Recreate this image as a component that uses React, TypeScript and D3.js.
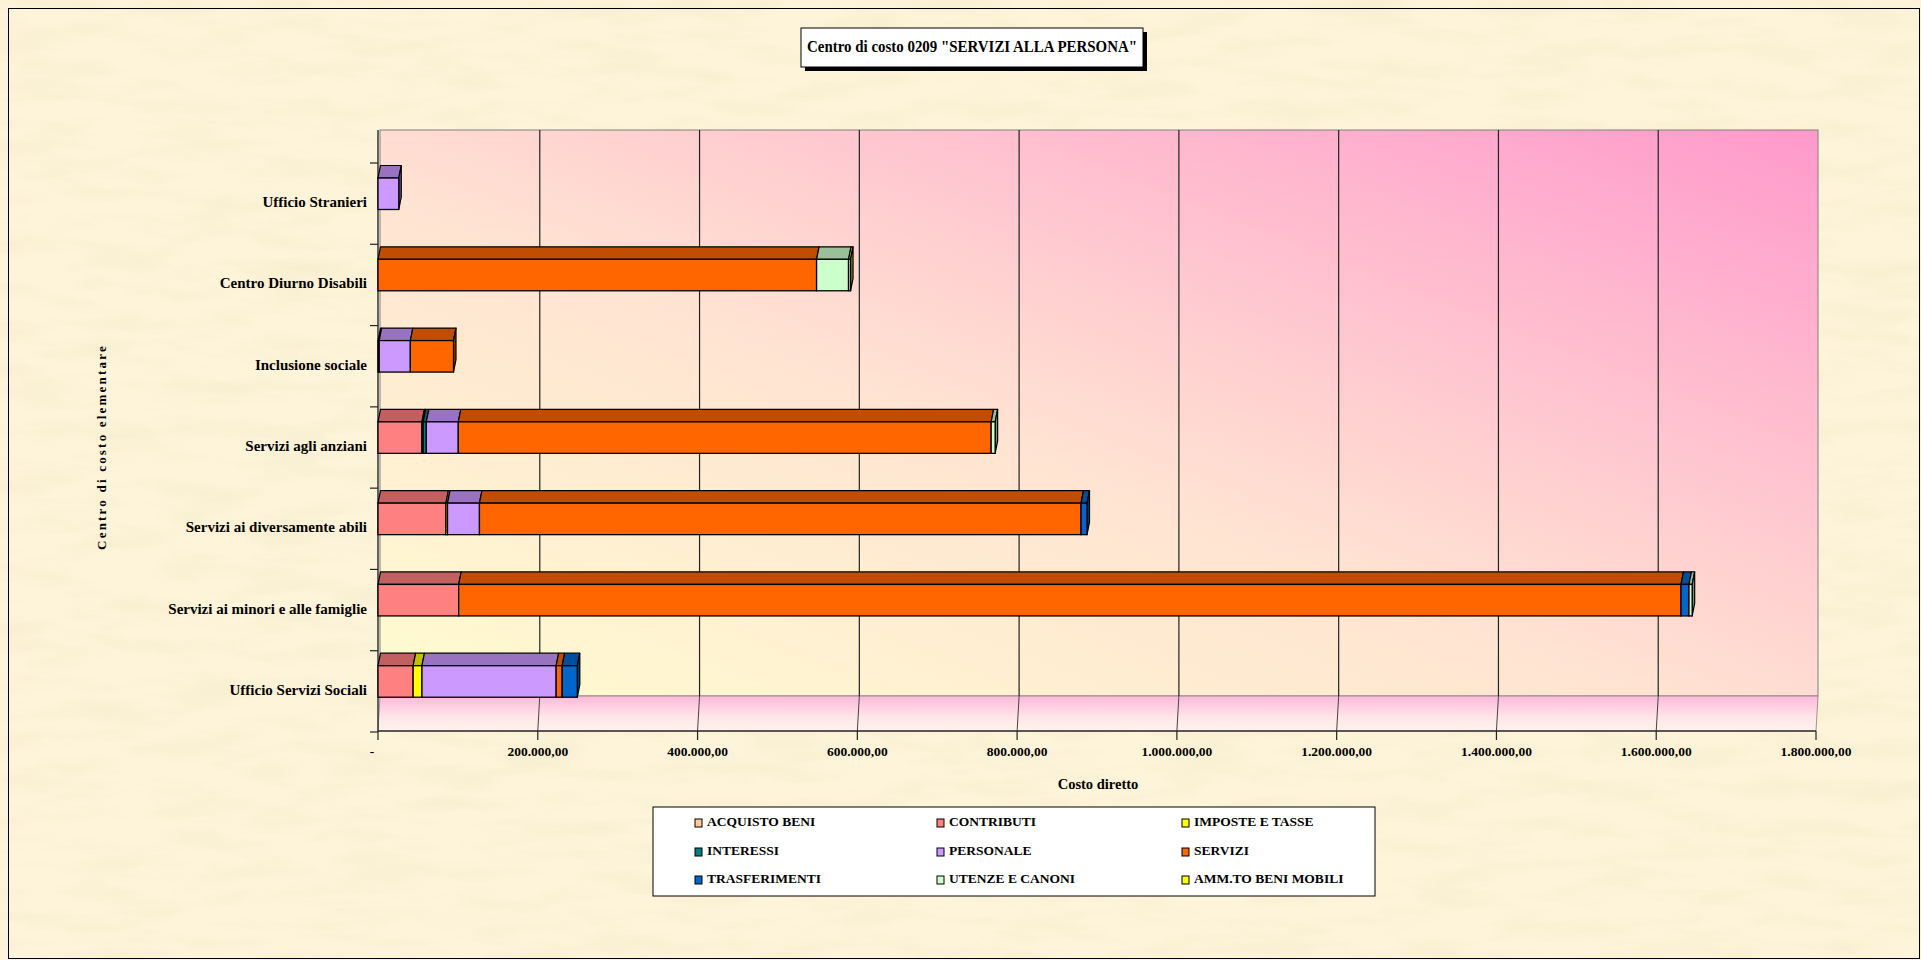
import React from "react";
import * as d3 from "d3";

const categories = [
  "Ufficio Stranieri",
  "Centro Diurno Disabili",
  "Inclusione sociale",
  "Servizi agli anziani",
  "Servizi ai diversamente abili",
  "Servizi ai minori e alle famiglie",
  "Ufficio Servizi Sociali",
];
const seriesNames = [
  "ACQUISTO BENI",
  "CONTRIBUTI",
  "IMPOSTE E TASSE",
  "INTERESSI",
  "PERSONALE",
  "SERVIZI",
  "TRASFERIMENTI",
  "UTENZE E CANONI",
  "AMM.TO BENI MOBILI",
];
const seriesColors = ["#FFCC99", "#FF8080", "#FFFF00", "#008080", "#CC99FF", "#FF6600", "#0066CC", "#CCFFCC", "#FFFF00"];

const acquistoBeni = [0, 0, 0, 0, 0, 0, 0];
const contributi = [0, 0, 0, 55000, 85000, 101000, 44000];
const imposteETasse = [0, 0, 1500, 1500, 2000, 0, 11000];
const interessi = [0, 0, 0, 4000, 0, 0, 0];
const personale = [26000, 0, 39000, 40000, 40000, 0, 168000];
const servizi = [0, 549000, 54000, 667000, 753000, 1530000, 7500];
const trasferimenti = [0, 0, 0, 0, 7500, 10000, 19000];
const utenzeECanoni = [0, 40000, 0, 5000, 0, 4000, 0];
const ammtoBeniMobili = [0, 2500, 0, 0, 0, 0, 0];

const xTicks = [0, 200000, 400000, 600000, 800000, 1000000, 1200000, 1400000, 1600000, 1800000];

const titleText = 'Centro di costo 0209 "SERVIZI ALLA PERSONA"';
const xTitle = "Costo diretto";
const yTitle = "Centro di costo elementare";

const seriesValues = [acquistoBeni, contributi, imposteETasse, interessi, personale, servizi, trasferimenti, utenzeECanoni, ammtoBeniMobili];

const rows = categories.map((c, i) => {
  const r: any = { cat: c };
  seriesNames.forEach((s, j) => (r[s] = seriesValues[j][i]));
  return r;
});

const itLocale = d3.formatLocale({ decimal: ",", thousands: ".", grouping: [3], currency: ["€", ""] });
const fmt = itLocale.format(",.2f");

const SERIF = "'Liberation Serif', 'Times New Roman', serif";

export default function App() {
  const W = 1921, H = 960;
  const x = d3.scaleLinear().domain([0, 1800000]).range([378, 1816]);
  const y = d3.scaleBand<string>().domain(categories).range([163, 732]);
  const stack = d3.stack<any>().keys(seriesNames)(rows);

  const wallTop = 130, wallBottom = 696, axisY = 731;
  const fdx = 2; // floor depth offset x
  const bdx = 2.5, bdy = 12.5; // bar depth
  const frontOff = 15, frontH = 31.5;

  const lastIdx = categories.map((_, i) => {
    let last = -1;
    seriesNames.forEach((_, j) => { if (seriesValues[j][i] > 0) last = j; });
    return last;
  });

  const bandTicks = d3.range(categories.length + 1).map((i) => 163 + i * y.step());

  return (
    <svg width={W} height={H} style={{ position: "fixed", left: 0, top: 0 }} fontFamily={SERIF}>
      <defs>
        <filter id="paper" x="0" y="0" width="100%" height="100%">
          <feTurbulence type="fractalNoise" baseFrequency="0.012 0.05" numOctaves={4} seed={7} result="n" />
          <feColorMatrix in="n" type="matrix" values="0 0 0 0 0.92  0 0 0 0 0.83  0 0 0 0 0.6  1.3 0 0 0 -0.5" />
        </filter>
        <linearGradient id="wall" x1="0" y1="1" x2="1" y2="0">
          <stop offset="0" stopColor="#FFFCD0" />
          <stop offset="0.45" stopColor="#FFE3D2" />
          <stop offset="1" stopColor="#FF99CC" />
        </linearGradient>
        <linearGradient id="floor" x1="0" y1="0" x2="0" y2="1">
          <stop offset="0" stopColor="#FFB8D8" />
          <stop offset="0.6" stopColor="#FFE6E8" />
          <stop offset="1" stopColor="#FFF2EA" />
        </linearGradient>
      </defs>

      {/* page background */}
      <rect x={0} y={0} width={W} height={H} fill="#FDF4DA" />
      <rect x={0} y={0} width={W} height={H} filter="url(#paper)" />
      <rect x={8.5} y={8.5} width={W - 10} height={H - 10} fill="none" stroke="#000" strokeWidth={1} />

      {/* title */}
      <rect x={805} y={32} width={342} height={39} fill="#000" />
      <rect x={801} y={28} width={342} height={39} fill="#fff" stroke="#000" strokeWidth={1} />
      <text x={972} y={48} textAnchor="middle" dominantBaseline="middle" fontSize={17} fontWeight="bold" textLength={330} lengthAdjust="spacingAndGlyphs">
        {titleText}
      </text>

      {/* back wall */}
      <rect x={x(0) + fdx} y={wallTop} width={x(1800000) - x(0)} height={wallBottom - wallTop} fill="url(#wall)" stroke="#808080" strokeWidth={1} />
      {/* floor */}
      <polygon
        points={`${x(0)},${axisY} ${x(1800000)},${axisY} ${x(1800000) + fdx},${wallBottom} ${x(0) + fdx},${wallBottom}`}
        fill="url(#floor)"
        stroke="#808080"
        strokeWidth={0.8}
      />
      {/* gridlines */}
      {xTicks.slice(1, -1).map((t) => (
        <g key={"g" + t}>
          <line x1={x(t) + fdx} x2={x(t) + fdx} y1={wallTop} y2={wallBottom} stroke="#222" strokeWidth={1.2} />
          <line x1={x(t) + fdx} x2={x(t)} y1={wallBottom} y2={axisY} stroke="#444" strokeWidth={1} />
        </g>
      ))}

      {/* y axis */}
      <line x1={x(0)} x2={x(0)} y1={wallTop} y2={axisY} stroke="#333" strokeWidth={1.5} />
      {bandTicks.map((t, i) => (
        <line key={"yt" + i} x1={370} x2={x(0)} y1={t} y2={t} stroke="#222" strokeWidth={1.2} />
      ))}
      {categories.map((c) => (
        <text key={"yl" + c} x={367} y={(y(c) as number) + y.bandwidth() / 2} textAnchor="end" dominantBaseline="middle" fontSize={15} fontWeight="bold" fill="#000">
          {c}
        </text>
      ))}

      {/* x axis */}
      <line x1={x(0)} x2={x(1800000)} y1={axisY} y2={axisY} stroke="#333" strokeWidth={1.5} />
      {xTicks.map((t) => (
        <g key={"xt" + t}>
          <line x1={x(t)} x2={x(t)} y1={axisY} y2={axisY + 9} stroke="#222" strokeWidth={1.2} />
          <text x={t === 0 ? x(t) - 6 : x(t)} y={753} textAnchor="middle" dominantBaseline="middle" fontSize={13.5} fontWeight="bold">
            {t === 0 ? "-" : fmt(t)}
          </text>
        </g>
      ))}
      <text x={1098} y={786} textAnchor="middle" dominantBaseline="middle" fontSize={14.5} fontWeight="bold">
        {xTitle}
      </text>
      <text
        transform={`translate(103,447) rotate(-90)`}
        textAnchor="middle"
        dominantBaseline="middle"
        fontSize={13}
        fontWeight="bold"
        letterSpacing={2.2}
      >
        {yTitle}
      </text>

      {/* bars */}
      {stack.map((layer, j) => {
        const col = seriesColors[j];
        const top = d3.color(col)!.darker(0.8).formatHex();
        const side = d3.color(col)!.darker(1.6).formatHex();
        return (
          <g key={"s" + j}>
            {layer.map((d, i) => {
              if (d[1] - d[0] <= 0) return null;
              const x0 = x(d[0]), x1 = x(d[1]);
              const yf = (y(categories[i]) as number) + frontOff;
              const yb = yf + frontH;
              return (
                <g key={i}>
                  <polygon
                    points={`${x0},${yf} ${x1},${yf} ${x1 + bdx},${yf - bdy} ${x0 + bdx},${yf - bdy}`}
                    fill={top}
                    stroke="#000"
                    strokeWidth={1.2}
                    strokeLinejoin="round"
                  />
                  {lastIdx[i] === j && (
                    <polygon
                      points={`${x1},${yf} ${x1 + bdx},${yf - bdy} ${x1 + bdx},${yb - bdy} ${x1},${yb}`}
                      fill={side}
                      stroke="#000"
                      strokeWidth={1.2}
                      strokeLinejoin="round"
                    />
                  )}
                  <rect x={x0} y={yf} width={x1 - x0} height={frontH} fill={col} stroke="#000" strokeWidth={1.3} />
                </g>
              );
            })}
          </g>
        );
      })}

      {/* legend */}
      <rect x={653} y={807} width={722} height={89} fill="#fff" stroke="#000" strokeWidth={1} />
      {seriesNames.map((s, i) => {
        const col = i % 3;
        const row = Math.floor(i / 3);
        const sx = [695, 937, 1182][col];
        const sy = [823, 852, 880][row];
        return (
          <g key={"lg" + s}>
            <rect x={sx} y={sy - 4} width={7} height={8} fill={seriesColors[i]} stroke="#000" strokeWidth={1} />
            <text x={sx + 12} y={sy} dominantBaseline="middle" fontSize={13.5} fontWeight="bold">
              {s}
            </text>
          </g>
        );
      })}
    </svg>
  );
}
